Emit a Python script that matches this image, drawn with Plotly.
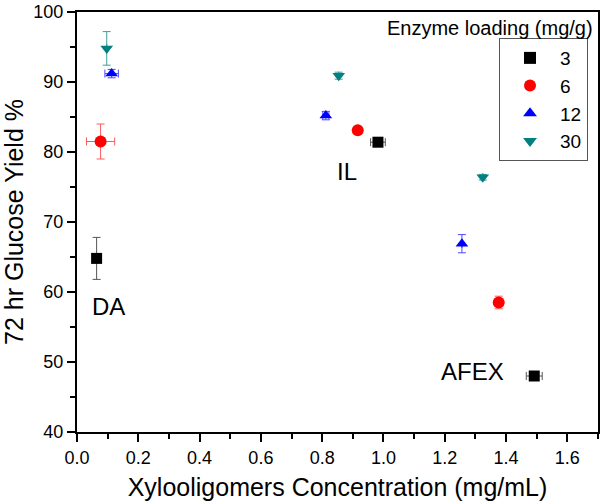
import plotly.graph_objects as go

loadings = ["3", "6", "12", "30"]
colors = ["#000000", "#ff0000", "#0000ff", "#008080"]
err_colors = ["#555555", "#ff5a5a", "#4a4aff", "#3aa0a0"]
symbols = ["square", "circle", "triangle-up", "triangle-down"]

# order of points in each series: DA, IL, AFEX
x_vals = {
    "3": [0.064, 0.982, 1.492],
    "6": [0.077, 0.916, 1.376],
    "12": [0.113, 0.812, 1.256],
    "30": [0.097, 0.854, 1.324],
}
y_vals = {
    "3": [64.8, 81.4, 48.0],
    "6": [81.5, 83.1, 58.5],
    "12": [91.2, 85.2, 66.9],
    "30": [94.8, 90.9, 76.4],
}
x_err = {
    "3": [0.0, 0.024, 0.026],
    "6": [0.046, 0.0, 0.0],
    "12": [0.022, 0.01, 0.0],
    "30": [0.0, 0.0, 0.0],
}
y_err = {
    "3": [3.0, 0.3, 0.3],
    "6": [2.5, 0.3, 0.9],
    "12": [0.6, 0.6, 1.3],
    "30": [2.4, 0.5, 0.4],
}

labels = ["DA", "IL", "AFEX"]
label_x = [0.104, 0.881, 1.289]
label_y = [58.0, 77.2, 48.7]

fig = go.Figure()
for i, k in enumerate(loadings):
    fig.add_trace(go.Scatter(
        x=x_vals[k], y=y_vals[k], mode="markers", name=k,
        marker=dict(symbol=symbols[i], color=colors[i], size=12 if i in (1,) else 11,
                    line=dict(width=0)),
        error_x=dict(type="data", array=x_err[k], color=err_colors[i], thickness=1, width=4),
        error_y=dict(type="data", array=y_err[k], color=err_colors[i], thickness=1, width=4),
    ))

for t, xx, yy in zip(labels, label_x, label_y):
    fig.add_annotation(x=xx, y=yy, text=t, showarrow=False,
                       font=dict(size=24, color="black"))

fig.add_annotation(xref="paper", yref="paper", x=1.0, y=1.0, xanchor="right", yanchor="top",
                   xshift=-3, yshift=-3,
                   text="Enzyme loading (mg/g)", showarrow=False,
                   font=dict(size=20, color="black"))

axis_common = dict(
    showline=True, linecolor="black", linewidth=2, mirror=True,
    ticks="outside", tickcolor="black", tickwidth=1.5, ticklen=8,
    showgrid=False, zeroline=False, automargin=False,
    tickfont=dict(size=18, color="black"),
)

fig.update_layout(
    width=600, height=502,
    margin=dict(l=77, r=2, t=12, b=70),
    paper_bgcolor="white", plot_bgcolor="white",
    font=dict(family="Liberation Sans, Arial, sans-serif", color="black"),
    xaxis=dict(range=[0, 1.7], dtick=0.2, tickformat=".1f",
               title=dict(text="Xylooligomers Concentration (mg/mL)", font=dict(size=25), standoff=12),
               minor=dict(ticks="outside", dtick=0.1, ticklen=5, tickcolor="black"),
               **axis_common),
    yaxis=dict(range=[40, 100], dtick=10,
               title=dict(text="72 hr Glucose Yield %", font=dict(size=25), standoff=6),
               minor=dict(ticks="outside", dtick=5, ticklen=5, tickcolor="black"),
               **axis_common),
    showlegend=True,
    legend=dict(x=0.81, y=0.938, xanchor="left", yanchor="top",
                bordercolor="#555555", borderwidth=1, bgcolor="white",
                font=dict(size=19), itemsizing="constant", itemwidth=50),
)

fig.write_html("out.html", config={"displayModeBar": False},
               post_script="document.body.style.margin='0';")
